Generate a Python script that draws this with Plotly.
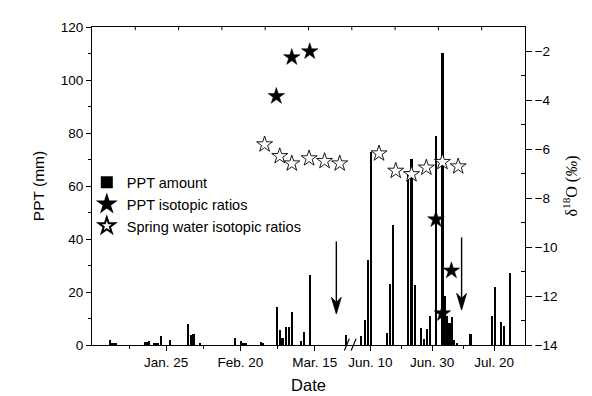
import plotly.graph_objects as go

# ---- Data (x = position index along the broken date axis) ----
ppt_day = [5.8, 6.4, 7.0, 7.7, 17.3, 17.8, 18.4, 20.2, 20.7, 21.3, 22.2, 25.1,
           31.0, 31.9, 32.8, 34.8, 46.3, 48.2, 49.0, 49.8, 54.7, 55.4,
           59.8, 60.8, 61.6, 62.6, 63.6, 64.6, 67.5, 68.5, 70.4, 82.0,
           87.1, 88.2, 89.3, 90.2, 95.4, 96.4, 97.3, 102.2, 103.3, 104.4,
           106.3, 107.3, 108.3, 109.2, 111.1, 113.3, 114.1, 114.8, 115.6,
           116.3, 117.1, 117.9, 122.4, 129.2, 130.2, 132.2, 133.2, 135.2]
ppt_mm = [1.8, 0.6, 0.5, 0.4, 1.3, 1.3, 1.5, 0.5, 0.5, 0.5, 3.3, 2.0,
          8.1, 3.7, 4.3, 0.5, 2.8, 1.6, 0.5, 0.4, 1.0, 0.8,
          14.2, 5.7, 2.8, 6.7, 6.7, 12.4, 1.7, 4.8, 26.6, 3.9,
          3.5, 9.5, 32.2, 72.8, 4.5, 23.2, 45.2, 65.5, 70.3, 22.6,
          6.4, 2.4, 6.1, 10.8, 78.8, 110.2, 18.5, 11.0, 8.4,
          10.4, 1.8, 0.5, 4.1, 10.8, 22.0, 8.6, 7.1, 27.0]

ppt_iso_day = [59.6, 64.6, 70.4, 111.2, 113.3, 116.2]
ppt_iso_d18o = [-3.83, -2.24, -2.0, -8.87, -12.71, -10.96]

spring_day = [55.8, 60.7, 64.6, 70.2, 75.2, 80.1, 92.8, 98.2, 103.3, 108.1, 113.3, 118.4]
spring_d18o = [-5.80, -6.28, -6.58, -6.37, -6.48, -6.58, -6.17, -6.88, -7.02, -6.75, -6.52, -6.70]

tick_pos = [24, 48, 72, 90, 110, 130]
tick_text = ["Jan. 25", "Feb. 20", "Mar. 15", "Jun. 10", "Jun. 30", "Jul. 20"]
minor_pos = [12, 36, 60, 100, 120]
top_tick_pos = [14, 28, 42, 56, 70, 84, 98, 112, 126]

arrow_day = [79.0, 119.5]
arrow_top = [39.1, 40.6]
arrow_tip = [11.7, 13.2]

FONT = "Liberation Sans, Arial, sans-serif"

fig = go.Figure()
fig.add_trace(go.Bar(x=ppt_day, y=ppt_mm, width=0.7, name="PPT amount",
                     marker=dict(color="black", line=dict(width=0)), yaxis="y"))
fig.add_trace(go.Scatter(x=ppt_iso_day, y=ppt_iso_d18o, mode="markers", name="PPT isotopic ratios",
                         yaxis="y2",
                         marker=dict(symbol="star", size=12.5, color="black",
                                     line=dict(color="black", width=0.5))))
fig.add_trace(go.Scatter(x=spring_day, y=spring_d18o, mode="markers", name="Spring water isotopic ratios",
                         yaxis="y2",
                         marker=dict(symbol="star", size=12, color="white",
                                     line=dict(color="black", width=0.9))))

# arrows drawn as shapes (shaft + barbed head), from the arrow arrays
HEAD_HALF_W = 1.6   # x units
HEAD_LEN = 6.3      # mm
HEAD_NOTCH = 4.4    # mm
shapes = []
for xd, yt, ytip in zip(arrow_day, arrow_top, arrow_tip):
    shapes.append(dict(type="line", xref="x", yref="y", x0=xd, x1=xd, y0=yt, y1=ytip + 2,
                       line=dict(color="black", width=1.4)))
    path = (f"M {xd} {ytip} L {xd - HEAD_HALF_W} {ytip + HEAD_LEN} "
            f"L {xd} {ytip + HEAD_NOTCH} L {xd + HEAD_HALF_W} {ytip + HEAD_LEN} Z")
    shapes.append(dict(type="path", xref="x", yref="y", path=path,
                       fillcolor="black", line=dict(color="black", width=0.8)))

# inward ticks on the top frame
for xt in top_tick_pos:
    shapes.append(dict(type="line", xref="x", yref="paper", x0=xt, x1=xt, y0=1, y1=0.99,
                       line=dict(color="black", width=1)))

# axis break marks
for x0 in (81.6, 83.8):
    shapes.append(dict(type="line", xref="x", yref="paper", x0=x0, x1=x0 + 1.6,
                       y0=-0.017, y1=0.02, line=dict(color="black", width=1.2)))

fig.update_layout(
    width=592, height=396,
    margin=dict(l=84, r=75, t=16, b=58),
    paper_bgcolor="white", plot_bgcolor="white",
    font=dict(family=FONT, size=13.5, color="black"),
    bargap=0,
    showlegend=True,
    legend=dict(x=-0.012, y=0.562, xanchor="left", yanchor="top",
                bgcolor="rgba(0,0,0,0)", font=dict(size=14.5, family=FONT),
                itemsizing="constant", tracegroupgap=0),
    xaxis=dict(range=[0, 140], tickmode="array", tickvals=tick_pos, ticktext=tick_text,
               ticks="outside", ticklen=5, tickcolor="black", showline=True, linecolor="black",
               linewidth=1, showgrid=False, zeroline=False, mirror=True,
               minor=dict(tickmode="array", tickvals=minor_pos, ticks="outside", ticklen=3,
                          tickcolor="black", showgrid=False),
               title=dict(text="Date", font=dict(size=16.5), standoff=10)),
    yaxis=dict(range=[0, 120], tickmode="array", tickvals=[0, 20, 40, 60, 80, 100, 120],
               ticks="outside", ticklen=5, tickcolor="black", showline=True, linecolor="black",
               linewidth=1, showgrid=False, zeroline=False,
               minor=dict(tickmode="array", tickvals=[10, 30, 50, 70, 90, 110], ticks="outside",
                          ticklen=3, tickcolor="black", showgrid=False),
               title=dict(text="PPT (mm)", font=dict(size=15.5), standoff=12)),
    yaxis2=dict(range=[-14, -1], overlaying="y", side="right", anchor="x", tickmode="array",
                tickvals=[-14, -12, -10, -8, -6, -4, -2],
                ticks="outside", ticklen=6, tickcolor="black", showline=True, linecolor="black",
                linewidth=1, showgrid=False, zeroline=False,
                minor=dict(tickmode="array", tickvals=[-13, -11, -9, -7, -5, -3], ticks="inside",
                           ticklen=4, tickcolor="black", showgrid=False),
                title=dict(text="δ<sup>18</sup>O (<i>‰</i>)",
                           font=dict(family="Liberation Serif, Times New Roman, serif", size=16),
                           standoff=8)),
    shapes=shapes,
)

fig.write_html("out.html")
